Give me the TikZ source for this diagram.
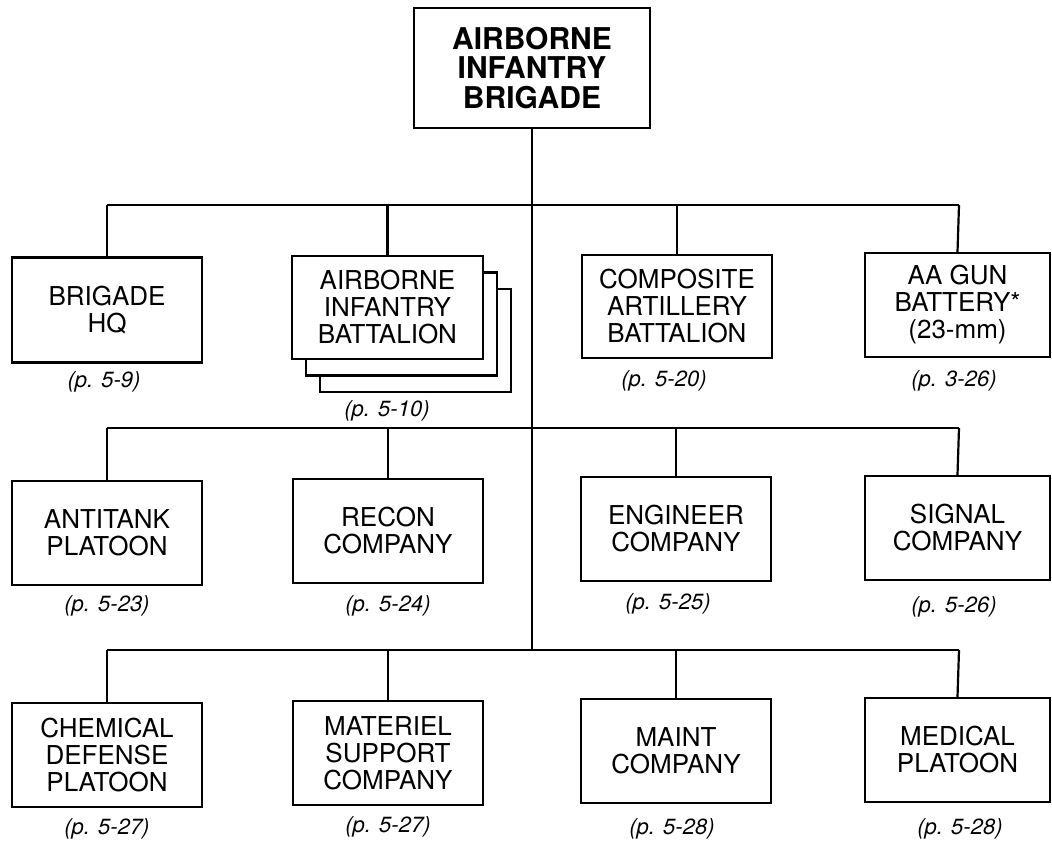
\documentclass[tikz,border=0pt]{standalone}
\usepackage{fontspec}
\setmainfont{TeX Gyre Heros}
\begin{document}
\begin{tikzpicture}[x=1pt,y=-1pt,
  unit/.style={draw, line width=2.4pt, fill=white, minimum width=190pt, minimum height=104pt,
    align=center, inner sep=0pt, font=\fontsize{26}{27}\selectfont},
  topunit/.style={draw, line width=2.4pt, minimum width=236pt, minimum height=120pt,
    align=center, inner sep=0pt, font=\fontsize{30}{29.5}\selectfont\bfseries},
  pg/.style={inner sep=0pt, font=\fontsize{22}{22}\selectfont\itshape},
  link/.style={line width=2.2pt}]
\useasboundingbox (0,0) rectangle (1052,842);

% top
\node[topunit] (brig) at (532,68) {AIRBORNE\\INFANTRY\\BRIGADE};

% junction coordinates
\coordinate (r1) at (532,205);
\coordinate (r2) at (532,428);
\coordinate (r3) at (532,650);
\coordinate (r1a) at (107,205);
\coordinate (r1d) at (959,205);
\coordinate (r2a) at (107,428);
\coordinate (r2d) at (959,428);
\coordinate (r3a) at (107,650);
\coordinate (r3d) at (959,650);

% row 1
\node[unit, minimum height=105pt] (hq) at (107,310) {BRIGADE\\HQ};
\node[unit, minimum width=191pt, minimum height=103pt] (bn3) at (415.5,340.5) {};
\node[unit, minimum width=191pt, minimum height=103pt] (bn2) at (401.5,324) {};
\node[unit, minimum width=191pt, minimum height=103pt] (bn) at (387.5,307.5) {AIRBORNE\\INFANTRY\\BATTALION};
\node[unit, minimum height=103pt] (art) at (677,306.5) {COMPOSITE\\ARTILLERY\\BATTALION};
\node[unit, minimum width=185pt] (aa) at (957.5,305) {AA GUN\\BATTERY*\\(23-mm)};

\node[pg] (hqp) at (104,382) {(p. 5-9)};
\node[pg] (bnp) at (387,411) {(p. 5-10)};
\node[pg] (artp) at (664,381) {(p. 5-20)};
\node[pg] (aap) at (954,381) {(p. 3-26)};

% row 2
\node[unit] (at) at (107,533) {ANTITANK\\PLATOON};
\node[unit] (rec) at (388,531) {RECON\\COMPANY};
\node[unit] (eng) at (676,529) {ENGINEER\\COMPANY};
\node[unit, minimum width=185pt] (sig) at (957.5,528) {SIGNAL\\COMPANY};

\node[pg] (atp) at (107,606) {(p. 5-23)};
\node[pg] (recp) at (388,606) {(p. 5-24)};
\node[pg] (engp) at (668,604) {(p. 5-25)};
\node[pg] (sigp) at (954,607) {(p. 5-26)};

% row 3
\node[unit] (chem) at (107,755) {CHEMICAL\\DEFENSE\\PLATOON};
\node[unit] (mat) at (388,753) {MATERIEL\\SUPPORT\\COMPANY};
\node[unit] (mnt) at (676,751) {MAINT\\COMPANY};
\node[unit, minimum width=185pt] (med) at (957.5,750) {MEDICAL\\PLATOON};

\node[pg] (chemp) at (107,829) {(p. 5-27)};
\node[pg] (matp) at (388,827) {(p. 5-27)};
\node[pg] (mntp) at (672,829) {(p. 5-28)};
\node[pg] (medp) at (960,829) {(p. 5-28)};

% connectors
\draw[link] (brig.south) -- (r3);
\draw[link] (r1a) -- (r1d);
\draw[link] (r2a) -- (r2d);
\draw[link] (r3a) -- (r3d);
\draw[link] (r1a) -- (hq.north);
\draw[link] (bn.north |- r1) -- (bn.north);
\draw[link] (art.north |- r1) -- (art.north);
\draw[link] (r1d) -- (aa.north);
\draw[link] (r2a) -- (at.north);
\draw[link] (rec.north |- r2) -- (rec.north);
\draw[link] (eng.north |- r2) -- (eng.north);
\draw[link] (r2d) -- (sig.north);
\draw[link] (r3a) -- (chem.north);
\draw[link] (mat.north |- r3) -- (mat.north);
\draw[link] (mnt.north |- r3) -- (mnt.north);
\draw[link] (r3d) -- (med.north);
\end{tikzpicture}
\end{document}
